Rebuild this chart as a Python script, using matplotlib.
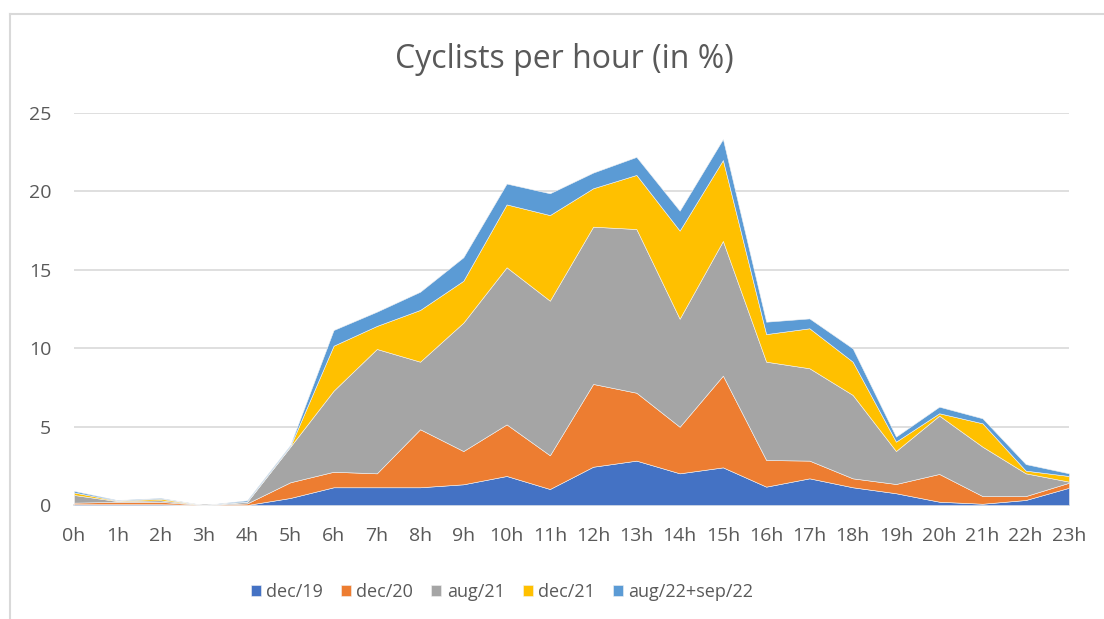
#!/usr/bin/env python3
import numpy as np
import matplotlib
matplotlib.use('Agg')
import matplotlib.pyplot as plt
from matplotlib.lines import Line2D

# ---------------------------------- data ------------------------------------ #
hours = ['%dh' % h for h in range(24)]
dec19 = [0.05, 0.05, 0.05, 0.0, 0.0, 0.45, 1.13, 1.13, 1.13, 1.32, 1.85, 1.02,
         2.44, 2.83, 2.02, 2.40, 1.17, 1.70, 1.13, 0.75, 0.21, 0.08, 0.32, 1.10]
dec20 = [0.10, 0.15, 0.15, 0.0, 0.10, 1.00, 0.99, 0.89, 3.70, 2.12, 3.29, 2.15,
         5.28, 4.33, 2.97, 5.85, 1.70, 1.13, 0.57, 0.59, 1.77, 0.49, 0.25, 0.32]
aug21 = [0.49, 0.05, 0.10, 0.0, 0.10, 2.27, 5.17, 7.93, 4.31, 8.19, 10.02, 9.86,
         10.03, 10.44, 6.89, 8.59, 6.27, 5.89, 5.32, 2.10, 3.72, 3.15, 1.45, 0.07]
dec21 = [0.16, 0.03, 0.10, 0.0, 0.02, 0.03, 2.87, 1.47, 3.30, 2.67, 4.01, 5.46,
         2.45, 3.45, 5.62, 5.16, 1.76, 2.55, 2.12, 0.60, 0.15, 1.49, 0.17, 0.36]
aug22_sep22 = [0.10, 0.04, 0.05, 0.0, 0.08, 0.08, 1.00, 0.91, 1.16, 1.50, 1.33, 1.39,
               1.00, 1.15, 1.27, 1.34, 0.79, 0.63, 0.85, 0.32, 0.42, 0.32, 0.42, 0.17]
series_names = ['dec/19', 'dec/20', 'aug/21', 'dec/21', 'aug/22+sep/22']
colors = ['#4472C4', '#ED7D31', '#A5A5A5', '#FFC000', '#5B9BD5']

plt.rcParams['font.family'] = ['Open Sans', 'DejaVu Sans']
text_col = '#595959'
grid_col = '#D9D9D9'
W, H = 1104, 619

# ---------------------- create the figure and axes ---------------------- #
fig = plt.figure(figsize=(W / 100, H / 100), dpi=100)
ax = fig.add_axes([74 / W, 1 - 505 / H, (1069 - 74) / W, (505 - 113) / H])

x = np.arange(len(hours))
ax.stackplot(x, dec19, dec20, aug21, dec21, aug22_sep22, colors=colors,
             labels=series_names, linewidth=0.4, edgecolor='#f2f2f2', zorder=3)

# ---------------------------- axes styling ------------------------------ #
ax.set_xlim(0, 23)
ax.set_ylim(0, 25)
ax.set_yticks(range(0, 26, 5))
ax.set_xticks(x)
ax.set_xticklabels(hours)
ax.yaxis.grid(True, color=grid_col, linewidth=1.2, zorder=0)
ax.set_axisbelow(True)
for s in ['top', 'right', 'left']:
    ax.spines[s].set_visible(False)
ax.spines['bottom'].set_color(grid_col)
ax.spines['bottom'].set_linewidth(1.2)
ax.tick_params(length=0, labelsize=14, labelcolor=text_col)
ax.tick_params(axis='x', pad=16)
ax.tick_params(axis='y', pad=16.5)

fig.text(564.5 / W, 1 - 60 / H, 'Cyclists per hour (in %)',
         ha='center', va='center', fontsize=23, color=text_col)

# ------------------------------ legend ---------------------------------- #
leg = fig.legend(loc='center', bbox_to_anchor=(502 / W, 1 - 592 / H), ncol=5,
                 frameon=False, fontsize=13, handlelength=0.55, handleheight=0.55,
                 columnspacing=1.0, handletextpad=0.3, labelcolor=text_col)

# ---------------------------- chart border ------------------------------ #
fig.add_artist(Line2D([10 / W, 1], [1 - 14 / H] * 2, color=grid_col, lw=1.5,
                      transform=fig.transFigure))
fig.add_artist(Line2D([10 / W] * 2, [0, 1 - 14 / H], color=grid_col, lw=1.5,
                      transform=fig.transFigure))

fig.savefig('out.png', dpi=100)
